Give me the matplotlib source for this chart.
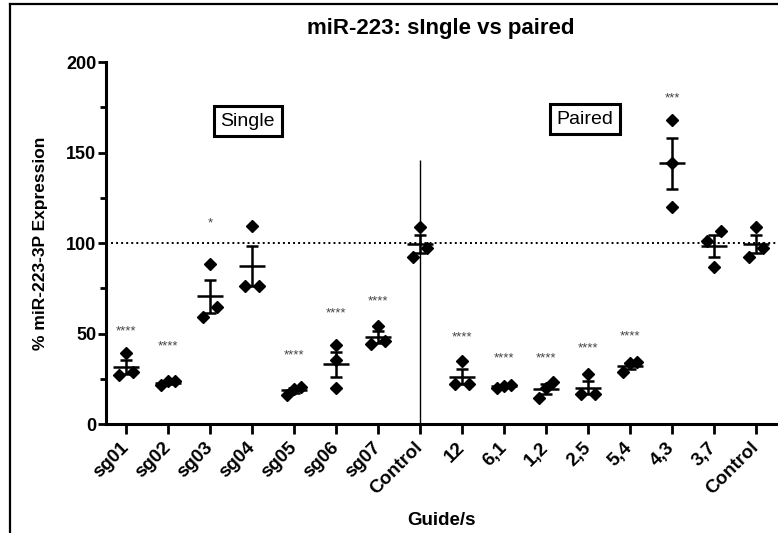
import numpy as np
import matplotlib.pyplot as plt
from matplotlib.lines import Line2D

plt.rcParams['font.family'] = ['Liberation Sans', 'DejaVu Sans']

# guide names along x, three replicates each
guides = ["sg01", "sg02", "sg03", "sg04", "sg05", "sg06", "sg07", "Control",
          "12", "6,1", "1,2", "2,5", "5,4", "4,3", "3,7", "Control"]
values = [
    [39.5, 27.0, 28.5],
    [23.5, 21.8, 23.5],
    [88.5, 64.5, 59.0],
    [109.6, 76.0, 76.0],
    [20.4, 19.4, 15.8],
    [43.5, 35.4, 20.0],
    [54.3, 44.2, 45.9],
    [109.0, 92.4, 97.0],
    [34.8, 21.9, 21.9],
    [21.5, 19.8, 21.0],
    [23.4, 20.0, 14.2],
    [27.5, 16.4, 16.4],
    [34.0, 33.5, 29.0],
    [168.0, 144.0, 120.0],
    [106.8, 101.1, 86.9],
    [109.0, 92.4, 97.0],
]
stars = ["****", "****", "*", "", "****", "****", "****", "",
         "****", "****", "****", "****", "****", "***", "", ""]
star_y = [53, 45, 113, 0, 40, 63, 70, 0, 50, 38.5, 38.5, 43.5, 50.5, 182, 0, 0]
divider_top = 146
ref_level = 100


def spread(vals, thr=6.5):
    """graphpad-ish: push overlapping points sideways"""
    order = np.argsort(vals)
    v = np.asarray(vals)[order]
    off = np.zeros(len(v))
    near = [i for i in range(len(v))
            if (i > 0 and v[i] - v[i-1] < thr) or (i < len(v)-1 and v[i+1] - v[i] < thr)]
    if len(near) == 3:
        off[:] = [-1, 0, 1]
    elif len(near) == 2:
        off[near[0]], off[near[1]] = -1, 1
    res = np.zeros(len(v))
    res[order] = off
    return res


fig = plt.figure(figsize=(7.78, 5.33), dpi=100)
ax = fig.add_axes([0.1362, 0.2045, 0.8638, 0.679])

x = np.arange(len(guides))
lw = 1.8
for i, vals in enumerate(values):
    vals = np.array(vals)
    m = vals.mean()
    sem = vals.std(ddof=1) / np.sqrt(len(vals))
    ax.plot(i + 0.167 * spread(vals), vals, 'D', color='black', ms=6, zorder=3)
    ax.hlines(m, i - 0.32, i + 0.32, color='black', lw=lw, zorder=4)
    ax.errorbar(i, m, yerr=sem, fmt='none', ecolor='black', elinewidth=lw,
                capsize=4.6, capthick=lw, zorder=4)
    if stars[i]:
        ax.text(i, star_y[i] - 2, stars[i], ha='center', va='center', fontsize=9.5,
                color='#444444')

ax.axhline(ref_level, ls=(0, (1, 1.6)), color='black', lw=1.4, zorder=1)
ax.vlines(7, 0, divider_top, color='black', lw=1.0, zorder=2)

box = dict(boxstyle='square,pad=0.35', fc='white', ec='black', lw=2.2)
ax.text(2.9, 167.4, "Single", ha='center', va='center', fontsize=14, bbox=box)
ax.text(10.93, 168.5, "Paired", ha='center', va='center', fontsize=14, bbox=box)

ax.set_xlim(-0.476, 15.524)
ax.set_ylim(0, 200)
ax.set_yticks([0, 50, 100, 150, 200])
ax.set_yticks([25, 75, 125, 175], minor=True)
ax.set_xticks(x)
ax.set_xticklabels(guides, rotation=45, ha='right', va='center',
                   rotation_mode='anchor', fontweight='bold', fontsize=13.5)
for t in ax.get_yticklabels():
    t.set_fontweight('bold')
ax.tick_params(axis='y', which='major', length=6, width=2, labelsize=13, pad=1)
ax.tick_params(axis='y', which='minor', length=4.5, width=2)
ax.tick_params(axis='x', length=7, width=2, pad=8)
for s in ['top', 'right']:
    ax.spines[s].set_visible(False)
for s in ['left', 'bottom']:
    ax.spines[s].set_linewidth(2.2)

ax.set_title("miR-223: sIngle vs paired", fontsize=16, fontweight='bold', pad=20,
             x=0.498)
ax.set_ylabel("% miR-223-3P Expression", fontsize=12.5, fontweight='bold', labelpad=13)
ax.set_xlabel("Guide/s", fontsize=13.5, fontweight='bold', labelpad=10)

# outer frame (left + top edges visible in the crop)
fig.add_artist(Line2D([10 / 778, 10 / 778], [0, 1 - 4 / 533], color='black', lw=1.6))
fig.add_artist(Line2D([10 / 778, 1], [1 - 4 / 533, 1 - 4 / 533], color='black', lw=1.6))

fig.savefig("out.png", dpi=100)
